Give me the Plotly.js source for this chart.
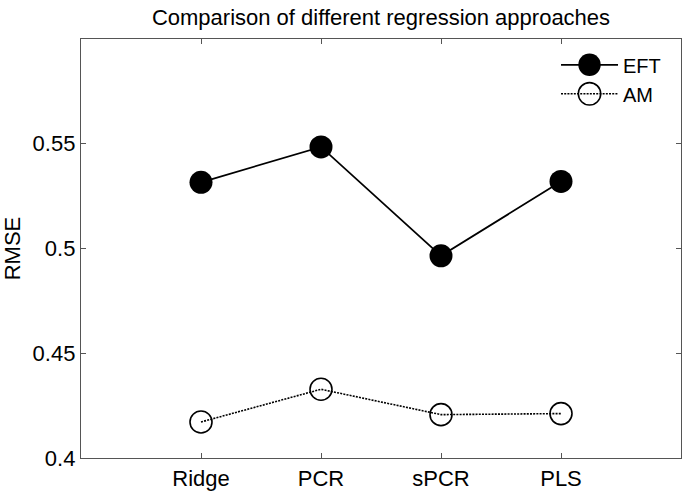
<!DOCTYPE html>
<html>
<head>
<meta charset="utf-8">
<script src="https://cdn.plot.ly/plotly-3.0.1.min.js"></script>
<style>html,body{margin:0;padding:0;background:#fff;}#chart{width:685px;height:493px;}</style>
</head>
<body>
<div id="chart"></div>
<script>
const categories = ["Ridge", "PCR", "sPCR", "PLS"];
const categoryPositions = [1, 2, 3, 4];
const eftValues = [0.5316, 0.5485, 0.4965, 0.5320];
const amValues = [0.4172, 0.4328, 0.4207, 0.4212];
const yTickValues = [0.4, 0.45, 0.5, 0.55];
const yTickLabels = ["0.4", "0.45", "0.5", "0.55"];

const font = "Liberation Sans, Arial, Helvetica, sans-serif";

const traces = [
  {
    x: categoryPositions, y: eftValues, name: "EFT", type: "scatter", mode: "lines+markers",
    line: {color: "#000", width: 1.8},
    marker: {symbol: "circle", size: 23, color: "#000"}
  },
  {
    x: categoryPositions, y: amValues, name: "AM", type: "scatter", mode: "lines+markers",
    line: {color: "#000", width: 1.6, dash: "2px,1.2px"},
    marker: {symbol: "circle-open", size: 22, color: "#000", line: {width: 1.6, color: "#000"}}
  }
];

const axisCommon = {
  showline: true, linecolor: "#555", linewidth: 1.2, mirror: "ticks",
  ticks: "inside", ticklen: 5, tickcolor: "#555", tickwidth: 1,
  showgrid: false, zeroline: false,
  tickfont: {family: font, size: 22, color: "#000"}
};

const layout = {
  width: 685, height: 493,
  margin: {l: 81, r: 4, t: 39, b: 35},
  paper_bgcolor: "#fff", plot_bgcolor: "#fff",
  title: {text: "Comparison of different regression approaches", font: {family: font, size: 22, color: "#000"},
    xref: "paper", x: 0.5, xanchor: "center", yref: "container", y: 0.965, yanchor: "middle"},
  xaxis: Object.assign({}, axisCommon, {range: [0, 5], tickmode: "array", tickvals: categoryPositions, ticktext: categories}),
  yaxis: Object.assign({}, axisCommon, {range: [0.4, 0.6], tickmode: "array", tickvals: yTickValues, ticktext: yTickLabels,
    title: {text: "RMSE", font: {family: font, size: 22, color: "#000"}, standoff: 6}}),
  showlegend: true,
  legend: {x: 0.7917, y: 0.985, xanchor: "left", yanchor: "top", bgcolor: "rgba(0,0,0,0)", borderwidth: 0,
    font: {family: font, size: 20, color: "#000"}, itemwidth: 57, tracegroupgap: 0}
};

Plotly.newPlot("chart", traces, layout, {displayModeBar: false, staticPlot: true}).then(function (gd) {
  // enlarge legend symbols to match the plotted marker size
  gd.querySelectorAll(".legend .legendpoints path.scatterpts").forEach(function (p) {
    const t = p.getAttribute("transform") || "";
    p.setAttribute("transform", t + " scale(1.4)");
    p.style.strokeWidth = (parseFloat(p.style.strokeWidth || "0") / 1.4) + "px";
  });
});
</script>
</body>
</html>
